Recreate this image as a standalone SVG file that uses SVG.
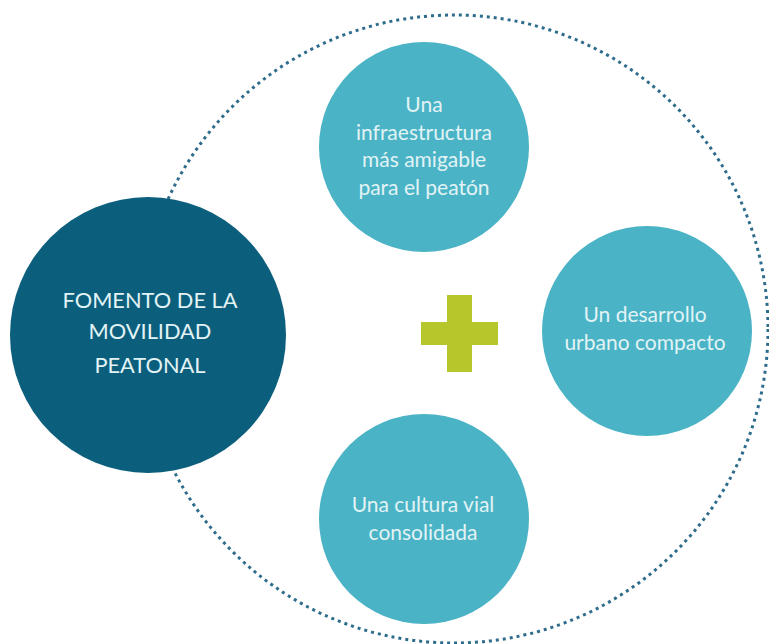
<svg xmlns="http://www.w3.org/2000/svg" width="769" height="644" viewBox="0 0 769 644">
<style>
.ring{fill:none;stroke:#2e6c8c;stroke-width:3;stroke-dasharray:3 4}
.main{fill:#0b5f7c}
.sub{fill:#4ab3c5}
.t{font-family:Lato,"Open Sans",sans-serif;fill:#e2f3f6;text-anchor:middle}
.tm{font-size:21.8px}
.ts{font-size:21px}
.plus{fill:#b6c72c}
</style>
<rect width="769" height="644" fill="#ffffff"/>
<g id="ring"><circle class="ring" cx="454" cy="329" r="314"/></g>
<g id="connectors"></g>
<g id="plus"><rect class="plus" x="421" y="322" width="77" height="23"/><rect class="plus" x="447" y="295" width="25" height="77"/></g>
<g id="node-main">
<circle class="main" cx="148" cy="335" r="138"/>
<text class="t tm" x="150" y="308">FOMENTO DE LA</text>
<text class="t tm" x="150" y="339">MOVILIDAD</text>
<text class="t tm" x="150" y="373">PEATONAL</text>
</g>
<g id="node-top">
<circle class="sub" cx="424" cy="147" r="105"/>
<text class="t ts" x="424" y="112">Una</text>
<text class="t ts" x="424" y="140">infraestructura</text>
<text class="t ts" x="424" y="167">más amigable</text>
<text class="t ts" x="424" y="195">para el peatón</text>
</g>
<g id="node-right">
<circle class="sub" cx="647" cy="331" r="105"/>
<text class="t ts" x="645" y="322">Un desarrollo</text>
<text class="t ts" x="645" y="350">urbano compacto</text>
</g>
<g id="node-bottom">
<circle class="sub" cx="424" cy="519" r="105"/>
<text class="t ts" x="423" y="512">Una cultura vial</text>
<text class="t ts" x="423" y="540">consolidada</text>
</g>
</svg>
